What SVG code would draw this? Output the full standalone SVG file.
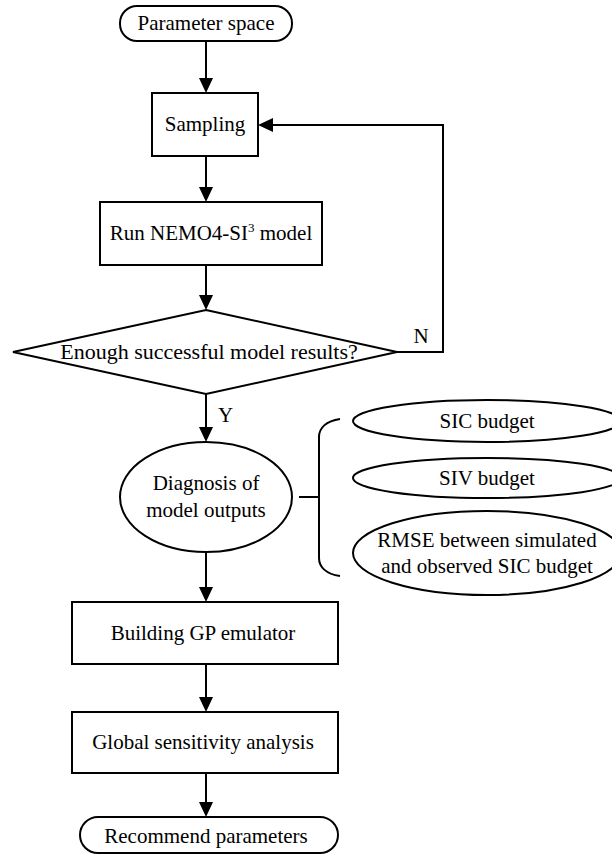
<svg xmlns="http://www.w3.org/2000/svg" width="612" height="856" viewBox="0 0 612 856">
<style>
.s{fill:#fff;stroke:#000;stroke-width:2}
.t{font-family:"Liberation Serif","Times New Roman",serif;font-size:21px;fill:#000;text-anchor:middle}
.c{fill:none;stroke:#000;stroke-width:2}
</style>
<defs>
<marker id="a" markerUnits="userSpaceOnUse" markerWidth="15" markerHeight="14" refX="0" refY="7" orient="auto">
<path d="M0,0 L15,7 L0,14 z" fill="#000"/>
</marker>
</defs>
<g id="connectors">
<line class="c" x1="206" y1="41" x2="206" y2="78" marker-end="url(#a)"/>
<line class="c" x1="206" y1="156" x2="206" y2="187" marker-end="url(#a)"/>
<line class="c" x1="206" y1="265" x2="206" y2="295" marker-end="url(#a)"/>
<polyline class="c" points="397,352 443,352 443,125 273,125" marker-end="url(#a)"/>
<line class="c" x1="206" y1="394" x2="206" y2="427" marker-end="url(#a)"/>
<line class="c" x1="206" y1="552" x2="206" y2="587" marker-end="url(#a)"/>
<line class="c" x1="206" y1="664" x2="206" y2="697" marker-end="url(#a)"/>
<line class="c" x1="206" y1="773" x2="206" y2="802" marker-end="url(#a)"/>
<line class="c" x1="299" y1="497" x2="319" y2="497"/>
<path class="c" d="M340,419 C326,421 319,428 319,437 L319,558 C319,567 326,574 340,576"/>
<text class="t" x="421" y="343">N</text>
<text class="t" x="218" y="422" style="text-anchor:start">Y</text>
</g>
<g id="param">
<rect class="s" x="120" y="6" width="172" height="35" rx="17"/>
<text class="t" x="206" y="30">Parameter space</text>
</g>
<g id="sampling">
<rect class="s" x="152" y="93" width="106" height="63"/>
<text class="t" x="205" y="131">Sampling</text>
</g>
<g id="run">
<rect class="s" x="100" y="202" width="222" height="63"/>
<text class="t" x="211" y="240">Run NEMO4-SI<tspan font-size="13" dy="-8">3</tspan><tspan dy="8"> model</tspan></text>
</g>
<g id="decision">
<polygon class="s" points="206,310 397,352 206,394 13,352"/>
<text class="t" x="209" y="359" style="font-size:22px">Enough successful model results?</text>
</g>
<g id="diagnosis">
<ellipse class="s" cx="206" cy="497" rx="86" ry="55"/>
<text class="t" x="206" y="490">Diagnosis of</text>
<text class="t" x="206" y="517">model outputs</text>
</g>
<g id="sic">
<ellipse class="s" cx="487" cy="421" rx="134" ry="21"/>
<text class="t" x="487" y="428">SIC budget</text>
</g>
<g id="siv">
<ellipse class="s" cx="487" cy="478" rx="134" ry="20"/>
<text class="t" x="487" y="485">SIV budget</text>
</g>
<g id="rmse">
<ellipse class="s" cx="487" cy="553" rx="134" ry="42"/>
<text class="t" x="487" y="547">RMSE between simulated</text>
<text class="t" x="487" y="573">and observed SIC budget</text>
</g>
<g id="gp">
<rect class="s" x="72" y="602" width="266" height="62"/>
<text class="t" x="203" y="640">Building GP emulator</text>
</g>
<g id="gsa">
<rect class="s" x="72" y="712" width="266" height="61"/>
<text class="t" x="203" y="749">Global sensitivity analysis</text>
</g>
<g id="rec">
<rect class="s" x="80" y="817" width="258" height="36" rx="18"/>
<text class="t" x="206" y="843">Recommend parameters</text>
</g>
</svg>
